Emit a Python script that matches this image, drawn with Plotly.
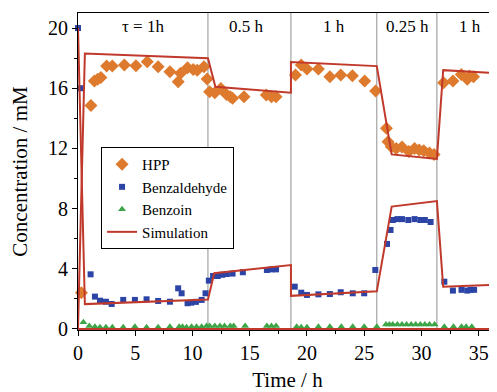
import plotly.graph_objects as go

# ---- data ----
hpp_t = [0.3, 1.13, 1.43, 1.72, 2.0, 2.5, 3.0, 4.05, 5.06, 6.05, 7.0, 8.03, 8.75, 8.96, 9.57, 10.06, 10.41,
         11.0, 11.28, 11.5, 11.95, 12.48, 12.97, 13.3, 13.5, 14.5, 16.45, 16.9, 17.3,
         19.0, 19.5, 20.0, 21.0, 22.0, 22.95, 23.97, 25.04, 26.0, 26.94, 27.08, 27.37, 27.8, 28.3,
         28.9, 29.4, 29.8, 30.2, 30.7, 31.1, 31.94, 32.75, 33.48, 34.0, 34.2, 34.55]
hpp_c = [2.4, 14.86, 16.48, 16.59, 16.72, 17.47, 17.47, 17.54, 17.5, 17.76, 17.43, 17.1, 16.43, 16.99, 17.36,
         17.25, 17.2, 17.43, 16.61, 15.77, 15.7, 15.99, 15.59, 15.44, 15.33, 15.44, 15.55, 15.44, 15.44,
         16.88, 17.54, 17.28, 17.28, 16.76, 16.88, 16.83, 16.48, 15.81, 13.34, 12.45, 12.11, 12.0, 12.1,
         11.8, 12.0, 11.9, 11.85, 11.7, 11.6, 16.37, 16.48, 16.92, 16.59, 16.81, 16.76]

benz_t = [0.0, 0.25, 1.1, 1.48, 1.92, 2.44, 2.94, 3.95, 4.97, 5.99, 7.0, 8.03, 8.75, 9.05, 9.57, 9.9, 10.3,
          10.8, 11.14, 11.43, 11.8, 12.2, 12.6, 13.0, 13.5, 14.4, 16.5, 16.9, 17.3,
          18.93, 19.5, 20.0, 21.0, 22.0, 22.95, 24.0, 25.0, 25.97, 26.99, 27.3, 27.5, 27.9, 28.3, 28.85,
          29.4, 29.9, 30.3, 30.8, 32.0, 32.75, 33.5, 34.0, 34.3, 34.6]
benz_c = [20.0, 16.0, 3.63, 2.15, 1.88, 1.81, 1.66, 1.93, 1.93, 1.97, 1.86, 1.81, 2.7, 2.37, 1.71, 1.75, 1.8,
          1.93, 2.37, 3.21, 3.52, 3.52, 3.6, 3.65, 3.68, 3.77, 3.92, 3.96, 3.96,
          2.81, 2.41, 2.26, 2.3, 2.32, 2.44, 2.37, 2.37, 3.92, 5.65, 6.58, 7.24, 7.3, 7.3, 7.24,
          7.3, 7.24, 7.24, 7.11, 3.14, 2.55, 2.6, 2.55, 2.6, 2.6]

benzoin_t = [0.47, 0.99, 1.48, 1.92, 2.44, 3.0, 3.95, 4.97, 5.99, 7.0, 8.03, 8.84, 9.13, 9.48, 9.92, 10.35,
             10.8, 11.23, 11.5, 11.95, 12.4, 12.8, 13.3, 13.6, 14.6, 16.5, 16.9, 17.3, 19.1, 19.5, 20.0,
             21.0, 22.0, 23.0, 24.0, 25.0, 26.1, 26.9, 27.2, 27.5, 27.9, 28.3, 28.7, 29.1, 29.5, 29.9,
             30.3, 30.7, 31.15, 32.0, 32.8, 33.5, 33.9, 34.4]
benzoin_c = [0.45, 0.2, 0.15, 0.12, 0.12, 0.12, 0.12, 0.15, 0.12, 0.12, 0.15, 0.15, 0.15, 0.12, 0.15, 0.15,
             0.15, 0.2, 0.2, 0.2, 0.2, 0.2, 0.2, 0.2, 0.2, 0.2, 0.2, 0.2, 0.15, 0.12, 0.12,
             0.15, 0.15, 0.15, 0.15, 0.15, 0.15, 0.3, 0.3, 0.3, 0.3, 0.3, 0.3, 0.3, 0.3, 0.3,
             0.3, 0.3, 0.3, 0.15, 0.15, 0.15, 0.15, 0.15]

sim_hpp_t = [0.0, 0.6, 11.35, 12.0, 18.6, 18.6, 26.1, 27.4, 31.35, 31.9, 36.6]
sim_hpp_c = [0.0, 18.3, 18.0, 16.1, 15.7, 17.74, 17.47, 11.6, 11.3, 17.2, 17.0]

sim_benz_t = [0.0, 0.6, 11.35, 11.9, 18.6, 18.6, 26.1, 27.4, 31.35, 31.9, 36.6]
sim_benz_c = [20.0, 1.65, 1.95, 3.7, 4.25, 2.2, 2.5, 8.13, 8.5, 2.8, 2.95]

sim_benzoin_t = [0.0, 36.6]
sim_benzoin_c = [0.0, 0.0]

switch_times = [11.35, 18.6, 26.1, 31.35]
phase_labels = ["τ = 1h", "0.5 h", "1 h", "0.25 h", "1 h"]
phase_label_t = [5.7, 14.7, 22.4, 28.8, 34.2]

# ---- figure ----
FONT = "Liberation Serif"
SIM_COLOR = "#C0392B"

fig = go.Figure()
fig.add_trace(go.Scatter(x=hpp_t, y=hpp_c, mode="markers", name="HPP",
                         marker=dict(symbol="diamond", size=10, color="#DE7A2E"), cliponaxis=False))
fig.add_trace(go.Scatter(x=benz_t, y=benz_c, mode="markers", name="Benzaldehyde",
                         marker=dict(symbol="square", size=6, color="#2B44A6"), cliponaxis=False))
fig.add_trace(go.Scatter(x=benzoin_t, y=benzoin_c, mode="markers", name="Benzoin",
                         marker=dict(symbol="triangle-up", size=7, color="#3DA548"), cliponaxis=False))
fig.add_trace(go.Scatter(x=sim_hpp_t, y=sim_hpp_c, mode="lines", name="Simulation",
                         line=dict(color=SIM_COLOR, width=2)))
fig.add_trace(go.Scatter(x=sim_benz_t, y=sim_benz_c, mode="lines", name="Simulation",
                         line=dict(color=SIM_COLOR, width=2), showlegend=False))
fig.add_trace(go.Scatter(x=sim_benzoin_t, y=sim_benzoin_c, mode="lines", name="Simulation",
                         line=dict(color=SIM_COLOR, width=2), showlegend=False))

for t in switch_times:
    fig.add_shape(type="line", xref="x", yref="paper", x0=t, x1=t, y0=0, y1=1,
                  line=dict(color="#909090", width=1), layer="below")

for lbl, t in zip(phase_labels, phase_label_t):
    fig.add_annotation(x=t, y=20.1, text=lbl, showarrow=False,
                       font=dict(family=FONT, size=17, color="black"), yanchor="middle")

# page body has an 8px margin, so the figure is sized to the remaining window
fig.update_layout(
    width=489, height=384,
    margin=dict(l=70, r=0, t=5, b=62),
    paper_bgcolor="white", plot_bgcolor="white",
    font=dict(family=FONT, size=19, color="black"),
    showlegend=True,
    legend=dict(x=0.055, y=0.577, xanchor="left", yanchor="top",
                bordercolor="black", borderwidth=1, bgcolor="white",
                font=dict(family=FONT, size=15), tracegroupgap=0,
                itemwidth=30),
    xaxis=dict(range=[0, 36.6], tickvals=[0, 5, 10, 15, 20, 25, 30, 35],
               ticks="outside", ticklen=5, tickcolor="black", showline=True, linecolor="black",
               linewidth=1, mirror=True, showgrid=False, zeroline=False, automargin=False,
               minor=dict(tickvals=[2.5, 7.5, 12.5, 17.5, 22.5, 27.5, 32.5], ticks="outside",
                          ticklen=3, tickcolor="black"),
               title=dict(text="Time / h", font=dict(family=FONT, size=21)),
               tickfont=dict(family=FONT, size=20)),
    yaxis=dict(range=[-0.07, 21.0], tickvals=[0, 4, 8, 12, 16, 20],
               ticks="outside", ticklen=5, tickcolor="black", showline=True, linecolor="black",
               linewidth=1, showgrid=False, zeroline=False, automargin=False,
               minor=dict(tickvals=[2, 6, 10, 14, 18], ticks="outside", ticklen=3, tickcolor="black"),
               title=dict(text="Concentration / mM", font=dict(family=FONT, size=21)),
               tickfont=dict(family=FONT, size=20)),
)

fig.write_html("out.html")
